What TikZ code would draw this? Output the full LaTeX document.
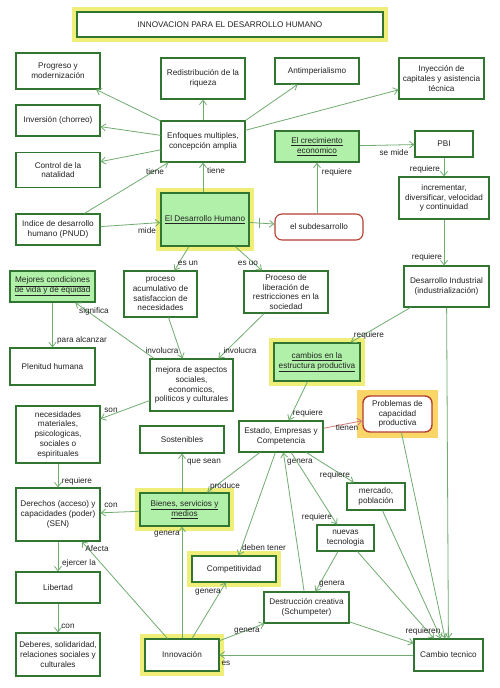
\documentclass[tikz,border=0pt]{standalone}
\usepackage{fontspec}
\setmainfont{Liberation Sans}
\usetikzlibrary{arrows.meta,backgrounds}
\definecolor{boxg}{RGB}{48,118,48}
\definecolor{lineg}{RGB}{112,172,112}
\definecolor{fillg}{RGB}{176,240,168}
\definecolor{hly}{RGB}{238,238,120}
\definecolor{hlo}{RGB}{250,214,104}
\definecolor{redb}{RGB}{180,62,48}
\definecolor{redl}{RGB}{210,120,120}
\definecolor{txt}{RGB}{35,35,35}
\begin{document}
\begin{tikzpicture}[x=1pt,y=-1pt,
 every node/.style={font=\fontsize{8.2}{9.8}\selectfont, text=txt},
 box/.style 2 args={draw=boxg, line width=1.1pt, fill=white, align=center, inner sep=1pt, minimum width=#1pt, minimum height=#2pt},
 gbox/.style 2 args={box={#1}{#2}, fill=fillg, line width=1.4pt},
 rbox/.style 2 args={box={#1}{#2}, draw=redb, rounded corners=7pt},
 conn/.style={draw=lineg, line width=0.8pt, -{Straight Barb[length=4.5pt,width=7pt]}},
 lbl/.style={inner sep=0pt},
 tick/.style={draw=lineg, line width=0.8pt, minimum width=0pt, minimum height=10pt, inner sep=0pt},
]
\useasboundingbox (0,0) rectangle (500,688);
% nodes
\node[box={306}{25}, line width=1.3pt] (title) at (230,24.5) {INNOVACION PARA EL DESARROLLO HUMANO};
\node[box={84}{36}] (prog) at (58,71) {Progreso y\\modernización};
\node[box={84}{31}] (inv) at (58,120.5) {Inversión (chorreo)};
\node[box={84}{35}] (ctrl) at (58,170) {Control de la\\natalidad};
\node[box={84}{31}] (ind) at (58,229.5) {Indice de desarrollo\\humano (PNUD)};
\node[box={84}{41}] (redis) at (203,78.5) {Redistribución de la\\riqueza};
\node[box={84}{41}] (enf) at (203,141.5) {Enfoques multiples,\\concepción amplia};
\node[gbox={88}{53}] (dh) at (205,219.5) {\underline{El Desarrollo Humano}};
\node[box={84}{26}] (anti) at (317,71) {Antimperialismo};
\node[box={85}{41}] (iny) at (441.5,78.5) {Inyección de\\capitales y asistencia\\técnica};
\node[gbox={84}{31}] (crec) at (317,146.5) {\underline{El crecimiento}\\\underline{economico}};
\node[box={58}{26}] (pbi) at (444,144) {PBI};
\node[box={90}{42}] (incr) at (444,198) {incrementar,\\diversificar, velocidad\\y continuidad};
\node[rbox={88}{26}] (subd) at (319,227) {el subdesarrollo};
\node[box={85}{41}] (di) at (446.5,286.5) {Desarrollo Industrial\\(industrialización)};
\node[box={73}{46}] (acum) at (160.5,294) {proceso\\acumulativo de\\satisfaccion de\\necesidades};
\node[box={84}{42}] (lib) at (286,292) {Proceso de\\liberación de\\restricciones en la\\sociedad};
\node[gbox={85}{31}] (mej) at (52.5,286.5) {\underline{Mejores condiciones}\\\underline{de vida y de equidad}};
\node[box={85}{37}] (plen) at (52.5,366.5) {Plenitud humana};
\node[box={83}{52}] (asp) at (191.5,385) {mejora de aspectos\\sociales,\\economicos,\\politicos y culturales};
\node[box={84}{57}] (nec) at (58,434.5) {necesidades\\materiales,\\psicologicas,\\sociales o\\espirituales};
\node[box={84}{27}] (sost) at (182,439.5) {Sostenibles};
\node[box={84}{31}] (est) at (281,436.5) {Estado, Empresas y\\Competencia};
\node[gbox={86}{38}] (camb) at (317,362) {\underline{cambios en la}\\\underline{estructura productiva}};
\node[rbox={69}{36}, line width=1.4pt] (prob) at (397.5,414) {Problemas de\\capacidad\\productiva};
\node[gbox={89}{33}] (bien) at (184.5,509.5) {\underline{Bienes, servicios y}\\\underline{medios}};
\node[box={84}{53}] (der) at (58,514.5) {Derechos (acceso) y\\capacidades (poder)\\(SEN)};
\node[box={84}{31}] (libe) at (58,587.5) {Libertad};
\node[box={84}{43}] (deb) at (58,654.5) {Deberes, solidaridad,\\relaciones sociales y\\culturales};
\node[box={84}{26}] (comp) at (234,569) {Competitividad};
\node[box={74}{32}] (innov) at (182,655) {Innovación};
\node[box={58}{27}] (merc) at (376,496.5) {mercado,\\población};
\node[box={57}{26}] (nuev) at (345.5,538) {nuevas\\tecnologia};
\node[box={85}{31}] (destr) at (306.5,607.5) {Destrucción creativa\\(Schumpeter)};
\node[box={69}{32}] (camt) at (448.5,655) {Cambio tecnico};
% highlights
\begin{pgfonlayer}{background}
\fill[white] (0,0) rectangle (500,688);
\foreach \n in {title,dh,camb,bien,comp,innov}
  \fill[hly] ([xshift=-4pt,yshift=4pt]\n.north west) rectangle ([xshift=4pt,yshift=-4pt]\n.south east);
\fill[hlo] ([xshift=-5pt,yshift=5pt]prob.north west) rectangle ([xshift=5pt,yshift=-5pt]prob.south east);
\end{pgfonlayer}
% connectors
\draw[conn] (enf) -- (prog);
\draw[conn] (enf) -- (inv);
\draw[conn] (enf) -- (ctrl);
\draw[conn] (enf) -- (redis);
\draw[conn] (enf.north east) -- (anti);
\draw[conn] (enf) -- (iny);
\draw[conn] (ind) -- (enf) node[lbl] at (155,172) {tiene};
\draw[conn] (enf.south |- dh.north) -- (enf.south) node[lbl] at (216,171) {tiene};
\draw[conn] (ind) -- (dh) node[lbl] at (147,231) {mide};
\draw[conn] (dh) -- node[tick, pos=0.4]{} (subd);
\draw[conn] (crec.south |- subd.north) -- (crec.south) node[lbl] at (337,172) {requiere};
\draw[conn] (crec) -- (pbi) node[lbl] at (394,153) {se mide};
\draw[conn] (pbi) -- (incr) node[lbl] at (425,169) {requiere};
\draw[conn] (incr.south) -- (incr.south |- di.north) node[lbl] at (427,257) {requiere};
\draw[conn] (di) -- (camb) node[lbl] at (369,335) {requiere};
\draw[conn] (camb) -- (est) node[lbl] at (308,413) {requiere};
\draw[conn, draw=redl] (est) -- (prob) node[lbl] at (347,428) {tienen};
\draw[conn] (dh) -- (acum) node[lbl] at (188,263) {es un};
\draw[conn] (dh) -- (lib) node[lbl] at (248,263) {es uo};
\draw[conn] (acum) -- (asp) node[lbl] at (162,351) {involucra};
\draw[conn] (lib) -- (asp) node[lbl] at (240,351) {involucra};
\draw[conn] (asp) -- (mej) node[lbl] at (94,311) {significa};
\draw[conn] (mej) -- (plen) node[lbl] at (82,340) {para alcanzar};
\draw[conn] (asp) -- (nec) node[lbl] at (111,410) {son};
\draw[conn] (nec) -- (der) node[lbl] at (77,481) {requiere};
\draw[conn] (bien) -- (der) node[lbl] at (111,505) {con};
\draw[conn] (sost.south |- bien.north) -- (sost.south) node[lbl] at (204,462) {que sean};
\draw[conn] (est) -- (bien) node[lbl] at (225,486) {produce};
\draw[conn] (der) -- (libe) node[lbl] at (79,563) {ejercer la};
\draw[conn] (libe) -- (deb) node[lbl] at (68,626) {con};
\draw[conn] (innov) -- (der) node[lbl] at (97,549) {Afecta};
\draw[conn] (innov.north) -- (innov.north |- bien.south) node[lbl] at (167,534) {genera};
\draw[conn] (innov) -- (comp) node[lbl] at (208,592) {genera};
\draw[conn] (est) -- (comp) node[lbl] at (264,548) {deben tener};
\draw[conn] (destr) -- (est) node[lbl] at (300,462) {genera};
\draw[conn] (est) -- (merc) node[lbl] at (335,475) {requiere};
\draw[conn] (est) -- (nuev) node[lbl] at (317,517) {requiere};
\draw[conn] (nuev) -- (destr) node[lbl] at (332,584) {genera};
\draw[conn] (innov) -- (destr) node[lbl] at (247,631) {genera};
\draw[conn] (camt) -- (innov) node[lbl] at (226,663) {es};
\draw[conn] (merc) -- (camt);
\draw[conn] (nuev) -- (camt);
\draw[conn] (destr) -- (camt) node[lbl] at (423,631) {requieren};
\draw[conn] (prob) -- (camt);
\draw[conn] (di) -- (camt);
\end{tikzpicture}
\end{document}
